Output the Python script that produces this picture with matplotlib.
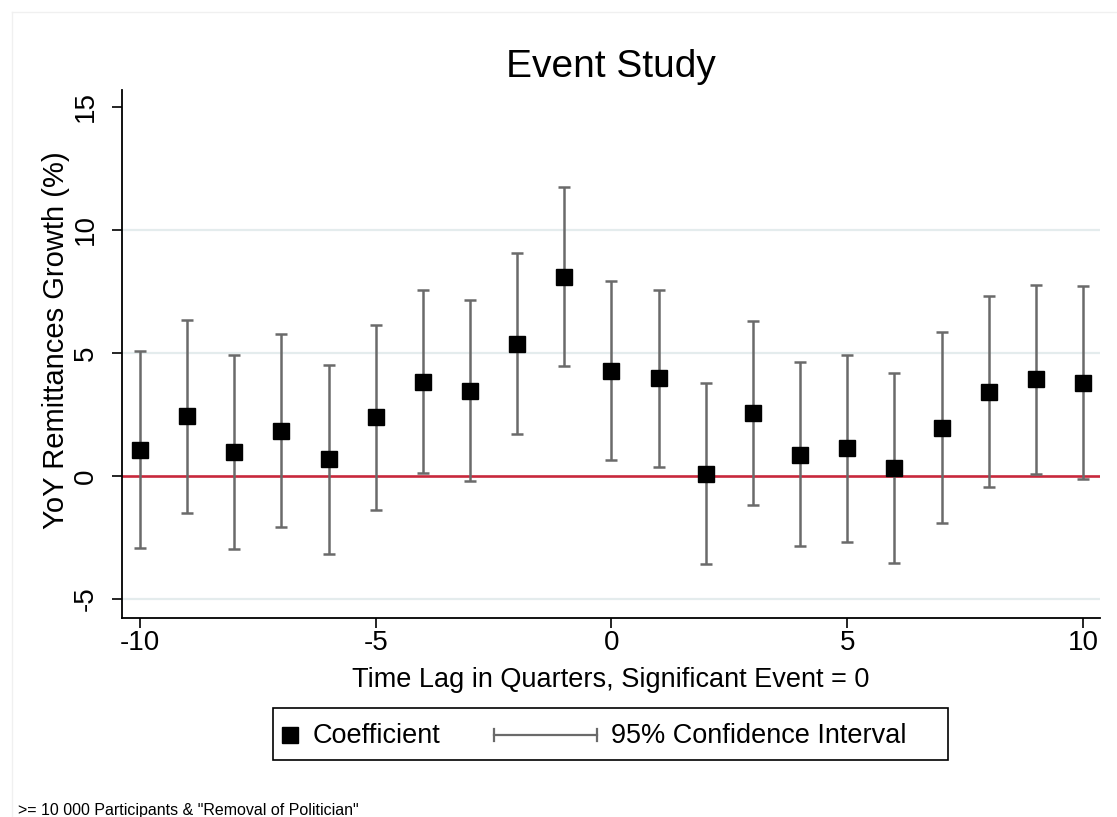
import matplotlib
matplotlib.use('Agg')
import matplotlib.pyplot as plt
from matplotlib.lines import Line2D
from matplotlib.patches import Rectangle

# ---------------- data ----------------
lags = list(range(-10, 11))
coef = [1.05, 2.42, 0.96, 1.84, 0.68, 2.38, 3.83, 3.47, 5.38, 8.09, 4.27, 3.98,
        0.07, 2.55, 0.87, 1.12, 0.31, 1.95, 3.43, 3.94, 3.79]
ci_low = [-2.92, -1.50, -2.98, -2.06, -3.16, -1.38, 0.11, -0.19, 1.71, 4.48, 0.64,
          0.38, -3.58, -1.19, -2.86, -2.67, -3.54, -1.91, -0.46, 0.07, -0.13]
ci_high = [5.08, 6.36, 4.91, 5.76, 4.51, 6.14, 7.56, 7.17, 9.08, 11.75, 7.91,
           7.58, 3.77, 6.30, 4.63, 4.93, 4.19, 5.85, 7.33, 7.77, 7.72]
xticks = [-10, -5, 0, 5, 10]
yticks = [-5, 0, 5, 10, 15]
grid_vals = [-5, 5, 10]

title = "Event Study"
xlabel = "Time Lag in Quarters, Significant Event = 0"
ylabel = "YoY Remittances Growth (%)"
legend_labels = ["Coefficient", "95% Confidence Interval"]
note = '>= 10 000 Participants & "Removal of Politician"'

# ---------------- style ----------------
plt.rcParams['font.family'] = ['Liberation Sans', 'DejaVu Sans']
W, H = 1117, 817
fig = plt.figure(figsize=(W / 100, H / 100), dpi=100)
fig.patch.set_facecolor('white')

def fx(px):
    return px / W

def fy(py):
    return 1 - py / H

ax = fig.add_axes([fx(122), fy(618), fx(1100) - fx(122), fy(90) - fy(618)])
ax.set_xlim(-10.38, 10.36)
ax.set_ylim(-5.77, 15.69)

for g in grid_vals:
    ax.axhline(g, color='#e4eced', lw=1.6, zorder=0)
ax.axhline(0, color='#c8283c', lw=1.9, zorder=1)

err_color = '#6a6a6a'
yerr = [[c - lo for c, lo in zip(coef, ci_low)], [hi - c for c, hi in zip(coef, ci_high)]]
ax.errorbar(lags, coef, yerr=yerr, fmt='none', ecolor=err_color, elinewidth=1.8,
            capsize=4.4, capthick=1.8, zorder=2)
ax.plot(lags, coef, linestyle='none', marker='s', markersize=11.8,
        color='black', zorder=3)

for side in ['top', 'right']:
    ax.spines[side].set_visible(False)
for side in ['left', 'bottom']:
    ax.spines[side].set_linewidth(1.3)
    ax.spines[side].set_color('black')

ax.set_xticks(xticks)
ax.set_xticklabels([str(t) for t in xticks])
ax.set_yticks(yticks)
ax.set_yticklabels([str(t) for t in yticks], rotation=90, va='center')
ax.tick_params(axis='both', direction='out', length=7, width=1.2, labelsize=20,
               colors='black')
ax.tick_params(axis='x', pad=2)
ax.tick_params(axis='y', pad=10)

ax.set_ylabel(ylabel, fontsize=21)
ax.yaxis.set_label_coords(-0.053, 0.527)
ax.set_xlabel(xlabel, fontsize=19.5)
ax.xaxis.set_label_coords(0.5, -0.093)

fig.text(fx(611), fy(77), title, ha='center', va='baseline', fontsize=28)

# ---------------- legend (drawn in figure coordinates) ----------------
fig.patches.append(Rectangle((fx(273), fy(760)), fx(948) - fx(273), fy(708) - fy(760),
                             transform=fig.transFigure, fill=False, edgecolor='black',
                             lw=1.2))
fig.lines.append(Line2D([fx(290)], [fy(735)], transform=fig.transFigure, marker='s',
                        markersize=11.8, color='black', linestyle='none'))
fig.text(fx(313), fy(736), legend_labels[0], ha='left', va='center', fontsize=19.5)
fig.lines.append(Line2D([fx(494), fx(597)], [fy(735), fy(735)], transform=fig.transFigure,
                        color=err_color, lw=1.6))
for xc in [494, 597]:
    fig.lines.append(Line2D([fx(xc), fx(xc)], [fy(729), fy(741)], transform=fig.transFigure,
                            color=err_color, lw=1.6))
fig.text(fx(611), fy(736), legend_labels[1], ha='left', va='center', fontsize=19.5)

# note at the bottom
fig.text(fx(18), fy(815), note, ha='left', va='baseline', fontsize=11.5)

# faint outer frame (graph region outline)
fig.lines.append(Line2D([fx(12), fx(12)], [fy(12), 0], transform=fig.transFigure,
                        color='#f0f0f0', lw=1))
fig.lines.append(Line2D([fx(12), 1], [fy(12), fy(12)], transform=fig.transFigure,
                        color='#f0f0f0', lw=1))

fig.savefig('out.png', dpi=100, facecolor='white')
